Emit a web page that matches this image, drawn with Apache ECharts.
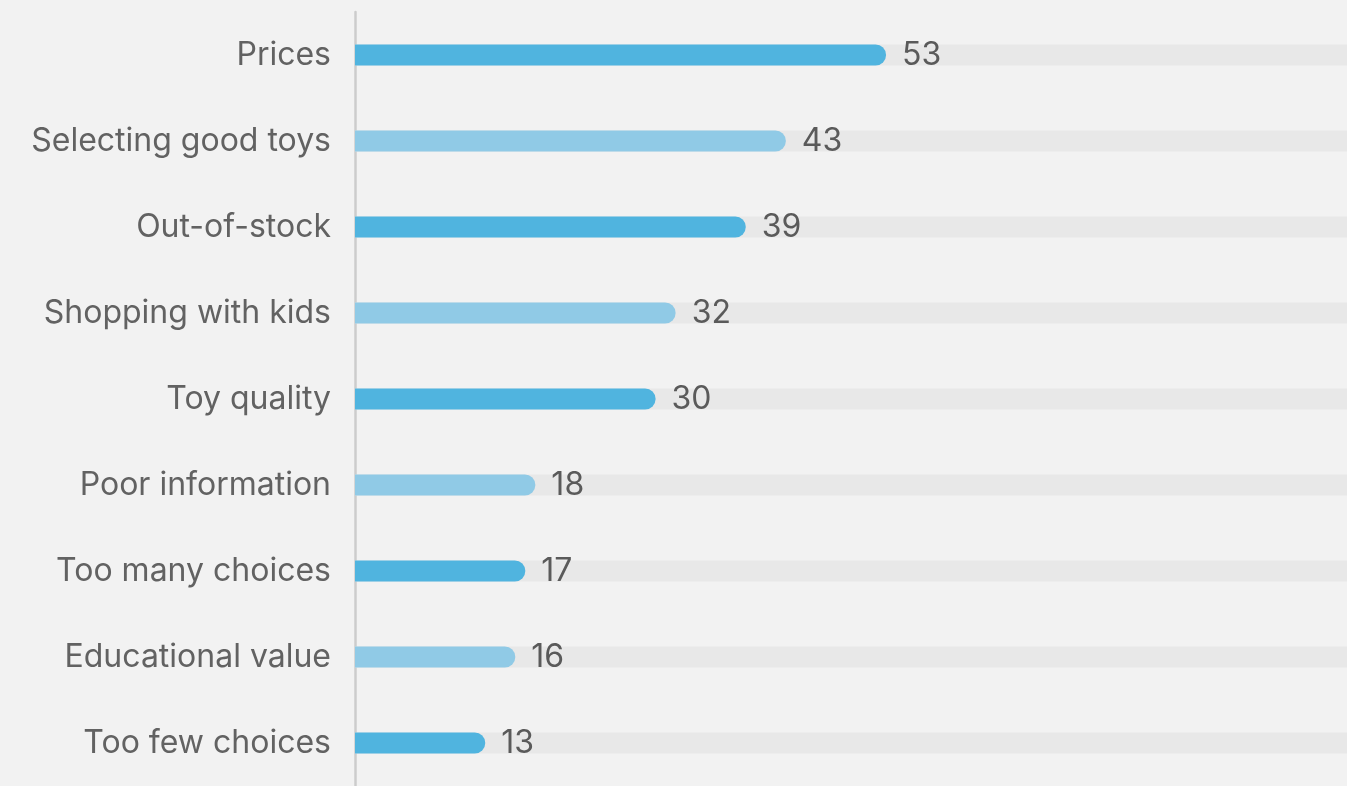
<!DOCTYPE html>
<html><head><meta charset="utf-8">
<script src="https://cdn.jsdelivr.net/npm/echarts@6/dist/echarts.min.js"></script>
<style>html,body{margin:0;padding:0;background:#f2f2f2;}#c{width:1347px;height:786px;}</style>
</head><body><div id="c"></div>
<script>
const categories = ["Prices","Selecting good toys","Out-of-stock","Shopping with kids","Toy quality","Poor information","Too many choices","Educational value","Too few choices"];
const values = [53,43,39,32,30,18,17,16,13];
const darkColor = "#50b4df";
const lightColor = "#90cae6";
const chart = echarts.init(document.getElementById('c'));
chart.setOption({
  backgroundColor: '#f2f2f2',
  animation: false,
  grid: {left: 355, right: 0, top: 12, bottom: -3},
  xAxis: {type: 'value', min: 0, max: 99, show: false},
  yAxis: {
    type: 'category', data: categories, inverse: true,
    axisLine: {show: true, lineStyle: {color: '#cccccc', width: 2.5}},
    axisTick: {show: false},
    axisLabel: {fontFamily: 'Inter', fontSize: 32, color: '#626262', margin: 24}
  },
  series: [{
    type: 'bar',
    data: values.map((v, i) => ({value: v, itemStyle: {color: i % 2 === 0 ? darkColor : lightColor}})),
    barWidth: 21,
    showBackground: true,
    backgroundStyle: {color: '#e8e8e8'},
    itemStyle: {borderRadius: [0, 11, 11, 0]},
    label: {show: true, position: 'right', distance: 16, fontFamily: 'Inter', fontSize: 32, color: '#5a5a5a'}
  }]
});
</script></body></html>
